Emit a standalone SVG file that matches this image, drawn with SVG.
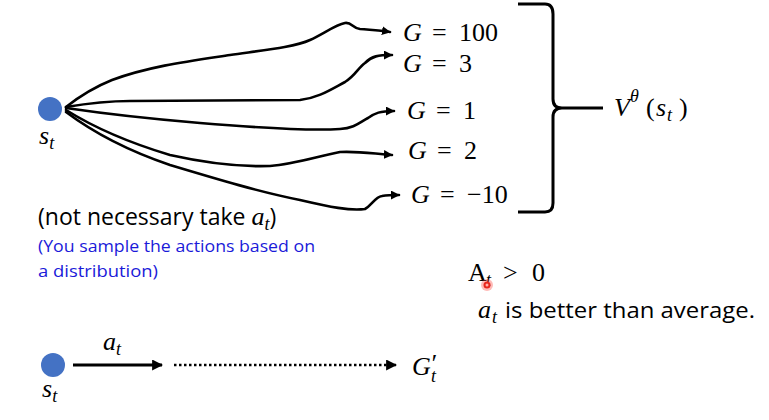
<svg xmlns="http://www.w3.org/2000/svg" width="769" height="420" viewBox="0 0 769 420">
<style>
.traj{fill:none;stroke:#000;stroke-width:2.6;stroke-linecap:round;stroke-linejoin:round}
.m{font-family:"Liberation Serif","DejaVu Serif",serif;font-size:26px;fill:#000}
.i{font-style:italic}
.sub{font-size:18px}
.s{font-family:"Open Sans","Liberation Sans",sans-serif;fill:#000}
.blue{fill:#1a1ad9}
.node{fill:#4472c4}
</style>
<defs>
<marker id="ah" viewBox="0 0 10 10" refX="9" refY="5" markerWidth="9" markerHeight="9" markerUnits="userSpaceOnUse" orient="auto">
<path d="M0,0 L10,5 L0,10 Z" fill="#000"/>
</marker>
<marker id="ah2" viewBox="0 0 10 10" refX="9" refY="5" markerWidth="11" markerHeight="11" markerUnits="userSpaceOnUse" orient="auto">
<path d="M0,0 L10,5 L0,10 Z" fill="#000"/>
</marker>
</defs>
<rect width="769" height="420" fill="#fff"/>

<g id="connectors">
<path class="traj" marker-end="url(#ah)" d="M66,107 C80,96 92,88 112,80 C150,66 190,61 230,55 C265,50 295,47 310,40 C325,33 335,25 345,23 C352,22 352,28 360,29 C370,30 378,30 390,32"/>
<path class="traj" marker-end="url(#ah)" d="M66,107 C90,103 110,101 130,101 L300,100 C318,98 330,90 345,82 C355,76 358,68 365,63 C372,56 378,55 392,55"/>
<path class="traj" marker-end="url(#ah)" d="M66,108 C100,113 140,118 200,123 C260,128 310,131 340,129 C355,128 360,122 368,118 C375,113 380,111 394,111"/>
<path class="traj" marker-end="url(#ah)" d="M66,110 C90,125 120,140 170,155 C210,164 240,167 270,166 C295,164 315,157 340,152 C360,151 375,154 392,155"/>
<path class="traj" marker-end="url(#ah)" d="M66,112 C90,130 120,148 170,165 C220,180 260,192 300,200 C330,207 350,211 365,209 C372,205 375,197 382,196 C388,195 392,195 399,195"/>
<path fill="none" stroke="#000" stroke-width="3" d="M518,4 L545,4 Q553,4 553,14 L553,99 Q553,108 562,108 L603,108 M562,108 Q553,108 553,117 L553,203 Q553,212 545,212 L518,212"/>
<path fill="none" stroke="#000" stroke-width="3" marker-end="url(#ah2)" d="M73,365 L162,365"/>
<path fill="none" stroke="#000" stroke-width="2.5" stroke-dasharray="2.5,2.5" marker-end="url(#ah2)" d="M174,365 L396,365"/>
</g>

<g id="node-st">
<circle class="node" cx="50" cy="109" r="12"/>
<text class="m i" x="39" y="144">s<tspan class="sub" dy="5">t</tspan></text>
</g>

<g id="g100"><text class="m" y="41"><tspan class="i" x="403">G</tspan><tspan x="432">=</tspan><tspan x="459">100</tspan></text></g>
<g id="g3"><text class="m" y="72"><tspan class="i" x="403">G</tspan><tspan x="432">=</tspan><tspan x="459">3</tspan></text></g>
<g id="g1"><text class="m" y="119"><tspan class="i" x="407">G</tspan><tspan x="436">=</tspan><tspan x="463">1</tspan></text></g>
<g id="g2"><text class="m" y="159"><tspan class="i" x="408">G</tspan><tspan x="437">=</tspan><tspan x="464">2</tspan></text></g>
<g id="gm10"><text class="m" y="203"><tspan class="i" x="411">G</tspan><tspan x="440">=</tspan><tspan x="467">−10</tspan></text></g>

<g id="value">
<text class="m" y="116"><tspan class="i" x="614">V</tspan><tspan class="i sub" x="630" y="102">θ</tspan><tspan x="646" y="116">(</tspan><tspan class="i" x="656">s</tspan><tspan class="i sub" x="667" y="121">t</tspan><tspan x="679" y="116">)</tspan></text>
</g>

<g id="notes">
<text class="s" x="38" y="225" font-size="23">(not necessary take <tspan class="m i" font-size="26">a</tspan><tspan class="m i sub" dy="5">t</tspan><tspan dy="-5">)</tspan></text>
<text class="s blue" x="38" y="252" font-size="16" textLength="277" lengthAdjust="spacingAndGlyphs">(You sample the actions based on</text>
<text class="s blue" x="38" y="277" font-size="16" textLength="120" lengthAdjust="spacingAndGlyphs">a distribution)</text>
</g>

<g id="advantage">
<text class="m" y="281"><tspan x="468">A</tspan><tspan class="i sub" x="486" y="286">t</tspan><tspan x="503" y="281">&gt;</tspan><tspan x="532">0</tspan></text>
<circle cx="487" cy="285" r="6" fill="#ff3b30" opacity="0.35"/>
<circle cx="487" cy="285" r="3.5" fill="#e8261c"/>
<circle cx="487" cy="285" r="1.5" fill="#ffb0a8"/>
<text class="s" y="318" font-size="21.5"><tspan class="m i" font-size="27" x="478">a</tspan><tspan class="m i sub" x="492" y="323">t</tspan><tspan x="505" y="318" textLength="250" lengthAdjust="spacingAndGlyphs">is better than average.</tspan></text>
</g>

<g id="node-st2">
<circle class="node" cx="53" cy="365" r="12"/>
<text class="m i" x="42" y="397">s<tspan class="sub" dy="5">t</tspan></text>
</g>
<g id="label-at"><text class="m i" x="103" y="350">a<tspan class="sub" dy="5">t</tspan></text></g>
<g id="node-gt"><text class="m i" y="375"><tspan x="412">G</tspan><tspan font-size="26" x="430" y="372">′</tspan><tspan class="sub" x="431" y="382">t</tspan></text></g>
</svg>
